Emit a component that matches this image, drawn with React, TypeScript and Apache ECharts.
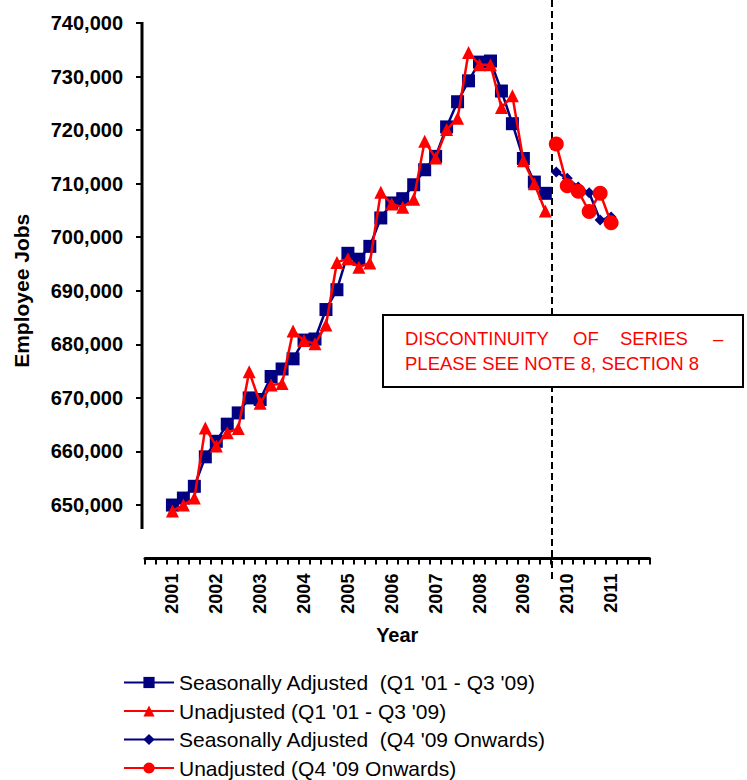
import React, { useEffect, useRef } from "react";
import * as echarts from "echarts";

// Quarter categories (two empty quarters before 2001 Q1, through 2011 Q4)
const quarterCategories: string[] = [
  "2000 Q3", "2000 Q4",
  "2001 Q1", "2001 Q2", "2001 Q3", "2001 Q4",
  "2002 Q1", "2002 Q2", "2002 Q3", "2002 Q4",
  "2003 Q1", "2003 Q2", "2003 Q3", "2003 Q4",
  "2004 Q1", "2004 Q2", "2004 Q3", "2004 Q4",
  "2005 Q1", "2005 Q2", "2005 Q3", "2005 Q4",
  "2006 Q1", "2006 Q2", "2006 Q3", "2006 Q4",
  "2007 Q1", "2007 Q2", "2007 Q3", "2007 Q4",
  "2008 Q1", "2008 Q2", "2008 Q3", "2008 Q4",
  "2009 Q1", "2009 Q2", "2009 Q3", "2009 Q4",
  "2010 Q1", "2010 Q2", "2010 Q3", "2010 Q4",
  "2011 Q1", "2011 Q2", "2011 Q3", "2011 Q4",
];

// Q1 '01 - Q3 '09
const oldStart = "2001 Q1";
const seasonallyAdjustedOld: number[] = [
  650000, 651300, 653500, 659000,
  661900, 665100, 667200, 670000,
  669700, 674000, 675400, 677300,
  680800, 681000, 686500, 690200,
  697000, 695900, 698300, 703600,
  706400, 707200, 709800, 712600,
  715100, 720600, 725300, 729200,
  732700, 732900, 727300, 721200,
  714700, 710300, 708200,
];
const unadjustedOld: number[] = [
  648900, 650000, 651300, 664400,
  661000, 663500, 664300, 674900,
  669000, 672400, 672700, 682500,
  680700, 680100, 683600, 695300,
  696000, 694400, 695200, 708400,
  706200, 705600, 707100, 717900,
  714800, 720100, 722200, 734500,
  732200, 732200, 724200, 726400,
  714300, 710000, 704900,
];

// Q4 '09 onwards
const newStart = "2009 Q4";
const seasonallyAdjustedNew: number[] = [712200, 711000, 709400, 708300, 703200, 703800];
const unadjustedNew: number[] = [717400, 709600, 708600, 704800, 708200, 702700];

const yTickValues: number[] = [650000, 660000, 670000, 680000, 690000, 700000, 710000, 720000, 730000, 740000];

const seriesNames = [
  "Seasonally Adjusted  (Q1 '01 - Q3 '09)",
  "Unadjusted (Q1 '01 - Q3 '09)",
  "Seasonally Adjusted  (Q4 '09 Onwards)",
  "Unadjusted (Q4 '09 Onwards)",
];

const noteLine1Words: string[] = ["DISCONTINUITY", "OF", "SERIES", "\u2013"];
const noteLine2 = "PLEASE SEE NOTE 8, SECTION 8";

function alignToCategories(values: number[], start: string): (number | null)[] {
  const offset = quarterCategories.indexOf(start);
  return quarterCategories.map((_, i) => {
    const k = i - offset;
    return k >= 0 && k < values.length ? values[k] : null;
  });
}

const NAVY = "#000080";
const RED = "#FF0000";
const FONT = "'Liberation Sans', Arial, sans-serif";

export default function App() {
  const ref = useRef<HTMLDivElement>(null);

  useEffect(() => {
    if (!ref.current) return;
    const chart = echarts.init(ref.current, undefined, { renderer: "svg" });

    const wordX = [405, 573, 620, 713];

    const option: any = {
      animation: false,
      backgroundColor: "#ffffff",
      textStyle: { fontFamily: FONT },
      grid: { left: 145, right: 97.5, top: 23, bottom: 221.4, containLabel: false },
      xAxis: {
        type: "category",
        data: quarterCategories,
        boundaryGap: true,
        name: "Year",
        nameLocation: "middle",
        nameGap: 66,
        nameTextStyle: { fontFamily: FONT, fontSize: 20, fontWeight: "bold", color: "#000" },
        axisLine: { show: true, onZero: false, lineStyle: { color: "#000", width: 3 } },
        axisTick: { show: true, interval: 0, length: 6, inside: false, lineStyle: { color: "#000", width: 2 } },
        axisLabel: {
          interval: 0,
          rotate: 90,
          margin: 15,
          fontFamily: FONT,
          fontSize: 18,
          fontWeight: "bold",
          color: "#000",
          formatter: (v: string) => (v.endsWith("Q1") ? v.slice(0, 4) : ""),
        },
        splitLine: { show: false },
      },
      yAxis: {
        type: "value",
        min: 640000,
        max: 740000,
        interval: 10000,
        offset: 3,
        name: "Employee Jobs",
        nameLocation: "middle",
        nameGap: 110,
        nameTextStyle: { fontFamily: FONT, fontSize: 21, fontWeight: "bold", color: "#000" },
        axisLine: { show: false },
        axisTick: { show: true, length: 6, customValues: yTickValues, lineStyle: { color: "#000", width: 2 } },
        axisLabel: {
          margin: 19,
          customValues: yTickValues,
          fontFamily: FONT,
          fontSize: 20,
          fontWeight: "bold",
          color: "#000",
          formatter: (v: number) => (v < 650000 ? "" : v.toLocaleString("en-US")),
        },
        splitLine: { show: false },
      },
      legend: {
        orient: "vertical",
        left: 123,
        top: 672,
        height: 110,
        padding: 0,
        itemWidth: 50,
        itemHeight: 14,
        itemGap: 7.5,
        textStyle: { fontFamily: FONT, fontSize: 21, color: "#000" },
        data: seriesNames,
      },
      series: [
        {
          name: seriesNames[0],
          type: "line",
          data: alignToCategories(seasonallyAdjustedOld, oldStart),
          symbol: "rect",
          symbolSize: 13,
          lineStyle: { color: NAVY, width: 2.5 },
          itemStyle: { color: NAVY },
          z: 2,
        },
        {
          name: seriesNames[1],
          type: "line",
          data: alignToCategories(unadjustedOld, oldStart),
          symbol: "triangle",
          symbolSize: 13,
          lineStyle: { color: RED, width: 2.5 },
          itemStyle: { color: RED },
          z: 3,
        },
        {
          name: seriesNames[2],
          type: "line",
          data: alignToCategories(seasonallyAdjustedNew, newStart),
          symbol: "diamond",
          symbolSize: 11,
          lineStyle: { color: NAVY, width: 2.5 },
          itemStyle: { color: NAVY },
          z: 2,
        },
        {
          name: seriesNames[3],
          type: "line",
          data: alignToCategories(unadjustedNew, newStart),
          symbol: "circle",
          symbolSize: 15,
          lineStyle: { color: RED, width: 2.5 },
          itemStyle: { color: RED },
          z: 3,
        },
      ],
      graphic: [
        {
          type: "line",
          shape: { x1: 142, y1: 22, x2: 142, y2: 529 },
          style: { stroke: "#000", lineWidth: 3 },
          z: 10,
        },
        {
          type: "line",
          shape: { x1: 552, y1: 0, x2: 552, y2: 582 },
          style: { stroke: "#000", lineWidth: 2, lineDash: [7, 4] },
          z: 1,
        },
        {
          type: "rect",
          shape: { x: 383, y: 315, width: 360, height: 72 },
          style: { fill: "#fff", stroke: "#000", lineWidth: 2 },
          z: 20,
        },
        ...noteLine1Words.map((w, i) => ({
          type: "text",
          x: wordX[i],
          y: 338,
          z: 21,
          style: {
            text: w,
            fill: RED,
            fontFamily: FONT,
            fontSize: 18.5,
            textVerticalAlign: "middle",
            verticalAlign: "middle",
          },
        })),
        {
          type: "text",
          x: 405,
          y: 363,
          z: 21,
          style: {
            text: noteLine2,
            fill: RED,
            fontFamily: FONT,
            fontSize: 18.5,
            textVerticalAlign: "middle",
            verticalAlign: "middle",
          },
        },
      ],
    };

    chart.setOption(option);
    return () => chart.dispose();
  }, []);

  return <div ref={ref} style={{ width: 747, height: 780, position: "absolute", left: 0, top: 0 }} />;
}
